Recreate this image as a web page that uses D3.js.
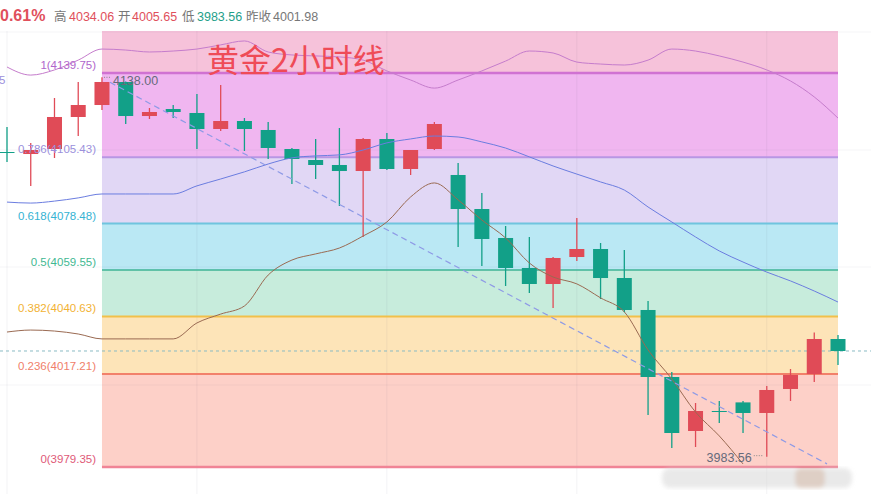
<!DOCTYPE html>
<html>
  <head>
    <meta charset="utf-8">
    <title>黄金2小时线</title>
    <script src="https://cdn.jsdelivr.net/npm/d3@7/dist/d3.min.js"></script>
    <style type="text/css">
        body { margin: 0; background: #fff; }
        svg { display: block; font-family: "Liberation Sans", Arial, sans-serif; }
    </style>
  </head>
  <body>
    <div id="viz"></div>
    <script type="text/javascript">
        // ---- data ----
        // 2 hour candles, oldest first
        var opens  = [4107.59, 4106.77, 4108.81, 4121.84, 4126.72, 4136.09, 4122.24, 4125.09, 4123.47, 4116.95,
                      4120.21, 4116.55, 4108.81, 4104.33, 4102.30, 4099.85, 4112.88, 4100.67, 4108.81, 4098.23,
                      4084.38, 4072.58, 4060.37, 4053.85, 4064.84, 4068.10, 4056.29, 4043.27, 4015.99, 3994.01,
                      4002.15, 4005.65, 4001.34, 4011.11, 4017.21, 4031.46];
        var highs  = [4117.77, 4111.25, 4129.57, 4136.09, 4138.00, 4136.30, 4125.50, 4126.72, 4131.20, 4134.86,
                      4121.43, 4119.80, 4109.22, 4112.88, 4117.36, 4113.29, 4115.32, 4108.40, 4119.80, 4103.11,
                      4090.90, 4077.46, 4072.99, 4064.84, 4080.72, 4070.54, 4067.69, 4046.93, 4018.03, 4005.41,
                      4006.22, 4006.22, 4012.33, 4019.25, 4034.06, 4033.09];
        var lows   = [4103.52, 4093.75, 4105.15, 4114.10, 4124.69, 4118.99, 4121.02, 4121.43, 4108.81, 4116.14,
                      4108.00, 4104.74, 4094.56, 4096.60, 4085.61, 4072.99, 4100.26, 4098.23, 4108.40, 4068.91,
                      4061.18, 4053.04, 4050.19, 4044.08, 4063.22, 4047.75, 4042.45, 4000.52, 3987.09, 3987.49,
                      3997.26, 3993.19, 3983.56, 4006.22, 4013.96, 4020.88];
        var closes = [4107.18, 4108.40, 4121.84, 4126.72, 4136.09, 4122.24, 4123.87, 4123.87, 4116.95, 4120.21,
                      4116.95, 4109.22, 4104.74, 4102.30, 4099.85, 4112.88, 4100.67, 4108.40, 4118.99, 4084.38,
                      4072.17, 4060.37, 4053.85, 4064.44, 4068.10, 4056.29, 4043.27, 4015.99, 3993.19, 4002.15,
                      4001.74, 4001.34, 4010.70, 4016.81, 4031.46, 4026.58];

        // bollinger bands (upper / middle / lower)
        var bollUpper = [4142.2, 4138.9, 4141.0, 4145.0, 4149.5, 4149.1, 4148.3, 4148.7, 4149.5, 4151.2,
                         4152.8, 4148.3, 4147.1, 4146.7, 4146.3, 4145.0, 4140.6, 4136.9, 4133.6, 4136.9,
                         4140.6, 4144.6, 4148.7, 4147.9, 4144.2, 4143.4, 4143.0, 4145.0, 4149.5, 4148.7,
                         4146.7, 4144.2, 4141.0, 4136.5, 4130.0, 4121.4];
        var bollMid   = [4087.2, 4086.8, 4087.6, 4088.9, 4090.5, 4090.5, 4090.5, 4090.5, 4093.8, 4096.6,
                         4099.5, 4102.7, 4105.2, 4106.0, 4106.4, 4108.4, 4111.3, 4112.9, 4114.1, 4113.7,
                         4111.7, 4109.2, 4105.6, 4101.9, 4098.6, 4095.4, 4092.1, 4085.2, 4079.1, 4073.0,
                         4067.3, 4062.8, 4058.7, 4055.1, 4051.0, 4046.5];
        var bollLower = [4034.3, 4035.1, 4034.7, 4033.5, 4031.5, 4031.5, 4031.5, 4031.5, 4038.0, 4041.6,
                         4044.9, 4057.5, 4063.6, 4066.1, 4068.5, 4073.4, 4079.1, 4089.3, 4095.0, 4088.1,
                         4079.9, 4072.6, 4062.4, 4056.7, 4053.9, 4048.2, 4042.5, 4027.0, 4015.2, 4001.7,
                         3992.0, 3980.6];

        // fibonacci retracement drawn from candle 4 to the last candle
        var fibRatios = [1, 0.786, 0.618, 0.5, 0.382, 0.236, 0];
        var fibPrices = [4139.75, 4105.43, 4078.48, 4059.55, 4040.63, 4017.21, 3979.35];
        var fibFrom = 4, fibTo = 35;
        var fibFill  = ["#f6c2da", "#f0b6f0", "#e1d7f5", "#bae8f4", "#c7ecdc", "#fde4b8", "#fdd0c8"];
        var fibLine  = ["#d072d2", "#b896e4", "#6fc4de", "#3fb596", "#f2c04a", "#f2806a", "#f08496"];
        var fibText  = ["#b066cc", "#9b90dc", "#35b3d3", "#3fb892", "#f2b233", "#f0806a", "#e05a78"];

        // trend line: from the 4138.00 high down to the last candle
        var trendFrom = [4, 4138.00], trendTo = [35, 3979.8];

        var lastPrice = 4026.58;
        var title = "黄金2小时线";
        var header = [
            {t: "0.61%", c: "#e0505c", x: 0, bold: true},
            {t: "高", c: "#777", x: 54}, {t: "4034.06", c: "#e0505c", x: 69},
            {t: "开", c: "#777", x: 118}, {t: "4005.65", c: "#e0505c", x: 132},
            {t: "低", c: "#777", x: 182}, {t: "3983.56", c: "#1fa08a", x: 197},
            {t: "昨收", c: "#777", x: 246}, {t: "4001.98", c: "#777", x: 273}
        ];

        var width = 871, height = 494;
        var plotTop = 31;
        var up = "#e04b57", down = "#12a088";

        var svg = d3.select("#viz").append("svg")
            .attr("width", width).attr("height", height);

        var x = d3.scaleLinear().domain([0, opens.length - 1]).range([7, 838]);
        var y = d3.scaleLinear().domain([3979.35, 4139.75]).range([467, 73]);

        svg.append("clipPath").attr("id", "plotClip")
            .append("rect").attr("x", 0).attr("y", plotTop).attr("width", width).attr("height", height - plotTop);

        var plot = svg.append("g").attr("clip-path", "url(#plotClip)");

        // fib zones, top zone runs off the top of the plot
        var fx0 = x(fibFrom), fx1 = x(fibTo);
        var edges = [plotTop].concat(fibPrices.map(function(p) { return y(p); }));
        plot.selectAll("rect.zone").data(fibFill).enter().append("rect")
            .attr("class", "zone")
            .attr("x", fx0).attr("width", fx1 - fx0)
            .attr("y", function(d, i) { return edges[i]; })
            .attr("height", function(d, i) { return i + 1 < edges.length ? edges[i + 1] - edges[i] : 0; })
            .style("fill", function(d) { return d; });

        // faint grid
        var gridX = [0, 8, 16, 24, 32];
        plot.selectAll("line.gx").data(gridX).enter().append("line")
            .attr("x1", function(d) { return x(d); }).attr("x2", function(d) { return x(d); })
            .attr("y1", plotTop).attr("y2", height)
            .style("stroke", "rgba(80,80,120,0.07)");
        var gridY = [32, 150, 267, 385];
        plot.selectAll("line.gy").data(gridY).enter().append("line")
            .attr("x1", 0).attr("x2", width)
            .attr("y1", function(d) { return d; }).attr("y2", function(d) { return d; })
            .style("stroke", "rgba(80,80,120,0.06)");

        // fib level lines
        plot.selectAll("line.fib").data(fibPrices).enter().append("line")
            .attr("x1", fx0).attr("x2", fx1)
            .attr("y1", function(d) { return y(d); }).attr("y2", function(d) { return y(d); })
            .style("stroke", function(d, i) { return fibLine[i]; })
            .style("stroke-width", function(d, i) { return (i == 0 || i == 6) ? 2.5 : (i == 3 ? 1.5 : 2); });

        // fib labels on the left
        svg.selectAll("text.fib").data(fibPrices).enter().append("text")
            .attr("x", 96).attr("y", function(d) { return y(d) - 4; })
            .attr("text-anchor", "end")
            .style("font-size", "11.5px")
            .style("fill", function(d, i) { return fibText[i]; })
            .text(function(d, i) { return fibRatios[i] + "(" + d.toFixed(2) + ")"; });
        // cut off label at the left edge
        svg.append("text").attr("x", -1).attr("y", 84)
            .style("font-size", "11.5px").style("fill", "#9b90dc").text("5");

        // last price dashed line
        plot.append("line")
            .attr("x1", 0).attr("x2", width)
            .attr("y1", y(lastPrice)).attr("y2", y(lastPrice))
            .style("stroke", "#8bbcc4").style("stroke-dasharray", "3,3");

        // candles
        var idx = d3.range(opens.length);
        var candle = plot.selectAll("g.candle").data(idx).enter().append("g")
            .style("fill", function(i) { return closes[i] >= opens[i] ? up : down; })
            .style("stroke", function(i) { return closes[i] >= opens[i] ? up : down; });
        candle.append("line")
            .attr("x1", function(i) { return x(i); }).attr("x2", function(i) { return x(i); })
            .attr("y1", function(i) { return y(highs[i]); }).attr("y2", function(i) { return y(lows[i]); })
            .style("stroke-width", 1.3);
        candle.append("rect")
            .attr("x", function(i) { return x(i) - 7.5; })
            .attr("width", 15)
            .attr("y", function(i) { return y(Math.max(opens[i], closes[i])); })
            .attr("height", function(i) { return Math.max(1, Math.abs(y(opens[i]) - y(closes[i]))); })
            .style("stroke", "none");

        // bollinger lines
        var line = d3.line()
            .x(function(d, i) { return x(i); })
            .y(function(d) { return y(d); })
            .curve(d3.curveMonotoneX);
        plot.append("path").attr("d", line(bollUpper))
            .style("fill", "none").style("stroke", "#c57ccc").style("stroke-width", 1);
        plot.append("path").attr("d", line(bollMid))
            .style("fill", "none").style("stroke", "#6b7de0").style("stroke-width", 1);
        plot.append("path").attr("d", line(bollLower))
            .style("fill", "none").style("stroke", "#9a6a52").style("stroke-width", 1);

        // dashed trend line
        plot.append("line")
            .attr("x1", x(trendFrom[0]) + 8).attr("y1", y(trendFrom[1]) + 5)
            .attr("x2", x(trendTo[0]) - 11).attr("y2", y(trendTo[1]) - 2)
            .style("stroke", "#8e9ae6").style("stroke-width", 1.2).style("stroke-dasharray", "6,4");

        // high / low markers
        var hiIdx = d3.maxIndex(highs), loIdx = d3.minIndex(lows);
        plot.append("line")
            .attr("x1", x(hiIdx) + 2).attr("x2", x(hiIdx) + 9)
            .attr("y1", y(highs[hiIdx])).attr("y2", y(highs[hiIdx]))
            .style("stroke", "#888").style("stroke-dasharray", "1,1.5");
        plot.append("text").attr("x", x(hiIdx) + 11).attr("y", y(highs[hiIdx]) + 8)
            .style("font-size", "12.5px").style("fill", "#666a7a").text(highs[hiIdx].toFixed(2));
        plot.append("line")
            .attr("x1", x(loIdx) - 13).attr("x2", x(loIdx) - 3)
            .attr("y1", y(lows[loIdx]) - 1).attr("y2", y(lows[loIdx]) - 1)
            .style("stroke", "#888").style("stroke-dasharray", "1,1.5");
        plot.append("text").attr("x", x(loIdx) - 15).attr("y", y(lows[loIdx]) + 5)
            .attr("text-anchor", "end")
            .style("font-size", "12.5px").style("fill", "#666a7a").text(lows[loIdx].toFixed(2));

        // title
        svg.append("text").attr("x", 207).attr("y", 72)
            .style("font-family", "'Noto Sans CJK SC', sans-serif")
            .style("font-size", "32px").style("fill", "#ef4b57")
            .text(title);

        // blurred watermark at the bottom right
        var blur = svg.append("filter").attr("id", "wm");
        blur.append("feGaussianBlur").attr("stdDeviation", 2.2);
        var wm = svg.append("g").attr("filter", "url(#wm)").style("opacity", 0.55);
        wm.append("rect").attr("x", 662).attr("y", 468).attr("width", 190).attr("height", 20)
            .attr("rx", 8).style("fill", "#d8d8d8");
        wm.append("rect").attr("x", 795).attr("y", 468).attr("width", 30).attr("height", 20)
            .attr("rx", 6).style("fill", "#c4a896");

        // header
        svg.selectAll("text.hdr").data(header).enter().append("text")
            .attr("x", function(d) { return d.x; }).attr("y", 21)
            .style("font-family", "'Liberation Sans', 'Noto Sans CJK SC', sans-serif")
            .style("font-size", function(d) { return d.bold ? "16px" : "12.5px"; })
            .style("font-weight", function(d) { return d.bold ? "bold" : "normal"; })
            .style("fill", function(d) { return d.c; })
            .text(function(d) { return d.t; });
    </script>
  </body>
</html>
